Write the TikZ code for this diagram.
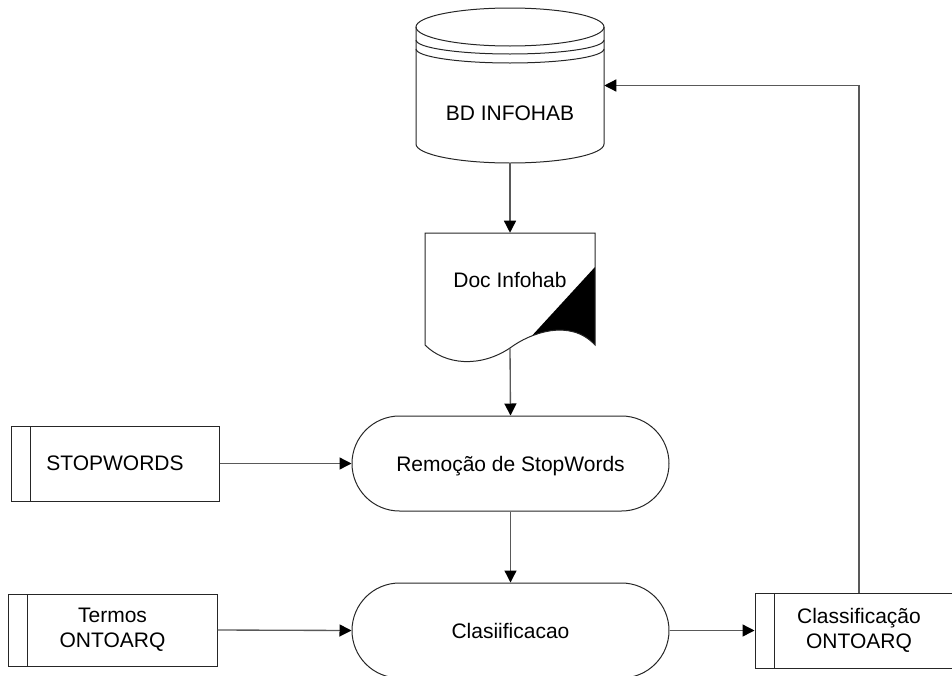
\documentclass[tikz,border=0pt]{standalone}
\usepackage{fontspec}
\setmainfont{Liberation Sans}
\usetikzlibrary{arrows.meta,shapes.misc}

\begin{document}
\begin{tikzpicture}[x=0.75pt,y=-0.75pt,
  every node/.style={font=\fontsize{15.75}{18.75}\selectfont},
  shapeline/.style={draw=black!85, line width=0.75pt},
  flow/.style={draw=black!65, line width=1pt,
    -{Triangle[length=9pt,width=9pt,color=black]}},
  terminal/.style={shapeline, rounded rectangle, minimum width=237.75pt,
    minimum height=71.25pt, inner sep=0pt, text depth=0pt},
  store/.style={shapeline, rectangle, minimum width=156pt,
    minimum height=56.25pt, inner sep=0pt, align=center,
    path picture={\draw[black!85, line width=0.75pt]
      ([xshift=14.25pt]path picture bounding box.north west) --
      ([xshift=14.25pt]path picture bounding box.south west);}},
  holder/.style={rectangle, inner sep=0pt}
]
\useasboundingbox (0,0) rectangle (952,675);

% ---- database cylinder ----
\node[holder, minimum width=141pt, minimum height=116.25pt] (db) at (510,85.5) {};
\draw[shapeline] (510,27) ellipse [x radius=70.5pt, y radius=14.25pt];
\draw[shapeline] (416,40) arc[start angle=180, end angle=360, x radius=70.5pt, y radius=10.5pt];
\draw[shapeline] (416,49) arc[start angle=180, end angle=360, x radius=70.5pt, y radius=10.5pt];
\draw[shapeline] (416,27) -- (416,144)
  arc[start angle=180, end angle=360, x radius=70.5pt, y radius=14.25pt] -- (604,27);
\node (dbtext) at (510,113) {BD INFOHAB};

% ---- document ----
\node[holder, minimum width=127.5pt, minimum height=86.25pt] (doc) at (510,290.5) {};
\begin{scope}
  \clip (425,345) -- (425,233) -- (595,233) -- (595,345)
    .. controls (570,318) and (530,333) .. (510,348)
    .. controls (480,368) and (445,365) .. (425,345) -- cycle;
  \fill[black] (595,267) -- (495,376) -- (600,376) -- (600,267) -- cycle;
\end{scope}
\draw[shapeline] (425,345) -- (425,233) -- (595,233) -- (595,345)
  .. controls (570,318) and (530,333) .. (510,348)
  .. controls (480,368) and (445,365) .. (425,345) -- cycle;
\node (doctext) at (510,280) {Doc Infohab};

% ---- processes ----
\node[terminal] (rem) at (510.5,463.5) {Remoção de StopWords};
\node[terminal] (cla) at (510.5,630.5) {Clasiificacao};

% ---- stores ----
\node[store] (stop) at (115,463.5) {STOPWORDS};
\node[store, minimum width=156.75pt, minimum height=54pt] (termos) at (112.5,630) {Termos\\ONTOARQ};
\node[store] (result) at (859,630.5) {Classificação\\ONTOARQ};

% ---- connectors ----
\draw[flow] (db.south) -- (doc.north);
\draw[flow] (doc.south) -- (rem.north);
\draw[flow] (stop.east) -- (rem.west);
\draw[flow] (rem.south) -- (cla.north);
\draw[flow] (termos.east) -- (cla.west);
\draw[flow] (cla.east) -- (result.west);
\draw[flow] (result.north) |- (db.east);
\end{tikzpicture}
\end{document}
